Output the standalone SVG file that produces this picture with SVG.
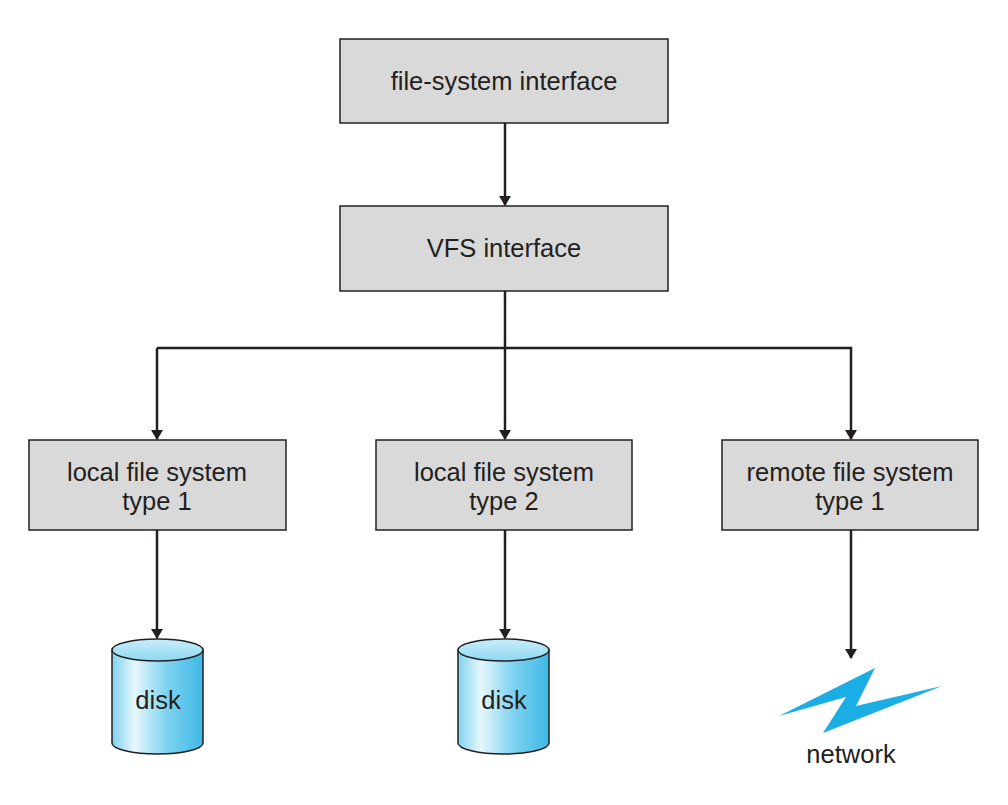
<svg xmlns="http://www.w3.org/2000/svg" width="1008" height="805" viewBox="0 0 1008 805">
<style>
.box{fill:#d9d9d9;stroke:#231f20;stroke-width:1.5}
.t{font-family:"Liberation Sans",Arial,sans-serif;font-size:25.5px;fill:#231f20;text-anchor:middle}
.c{fill:none;stroke:#231f20;stroke-width:2.5}
.disk{fill:url(#g);stroke:#231f20;stroke-width:1.5}
</style>
<defs>
<marker id="a" markerWidth="10" markerHeight="12" refX="9" refY="6" orient="auto" markerUnits="userSpaceOnUse"><path d="M0,0 L10,6 L0,12 z" fill="#231f20"/></marker>
<linearGradient id="g" x1="0" x2="1" y1="0" y2="0"><stop offset="0" stop-color="#7fd3f0"/><stop offset="0.25" stop-color="#e6f7fd"/><stop offset="0.6" stop-color="#7fd3f0"/><stop offset="1" stop-color="#3fb9e6"/></linearGradient>
<linearGradient id="gt" x1="0" x2="0" y1="0" y2="1"><stop offset="0" stop-color="#c9eefb"/><stop offset="1" stop-color="#8fd8f3"/></linearGradient>
</defs>
<rect x="0" y="0" width="1008" height="805" fill="#fff"/>
<g id="connectors">
<line class="c" x1="505" y1="123" x2="505" y2="205" marker-end="url(#a)"/>
<line class="c" x1="505" y1="291" x2="505" y2="439" marker-end="url(#a)"/>
<polyline class="c" points="157,348 851,348 851,439" marker-end="url(#a)"/>
<line class="c" x1="157" y1="348" x2="157" y2="439" marker-end="url(#a)"/>
<line class="c" x1="157" y1="530" x2="157" y2="638" marker-end="url(#a)"/>
<line class="c" x1="505" y1="530" x2="505" y2="638" marker-end="url(#a)"/>
<line class="c" x1="851" y1="530" x2="851" y2="658" marker-end="url(#a)"/>
</g>
<g id="fsi"><rect class="box" x="340" y="39" width="328" height="84"/><text class="t" x="504" y="90">file-system interface</text></g>
<g id="vfs"><rect class="box" x="340" y="206" width="328" height="85"/><text class="t" x="504" y="257">VFS interface</text></g>
<g id="lfs1"><rect class="box" x="29" y="440" width="257" height="90"/><text class="t" x="157" y="481">local file system</text><text class="t" x="157" y="510">type 1</text></g>
<g id="lfs2"><rect class="box" x="376" y="440" width="256" height="90"/><text class="t" x="504" y="481">local file system</text><text class="t" x="504" y="510">type 2</text></g>
<g id="rfs"><rect class="box" x="722" y="440" width="256" height="90"/><text class="t" x="850" y="481">remote file system</text><text class="t" x="850" y="510">type 1</text></g>
<g id="disk1"><path class="disk" d="M112,650 L112,743 A45.5,11 0 0 0 203,743 L203,650"/><ellipse cx="157.5" cy="650" rx="45.5" ry="11" fill="url(#gt)" stroke="#231f20" stroke-width="1.5"/><text class="t" x="158" y="709">disk</text></g>
<g id="disk2"><path class="disk" d="M458,650 L458,743 A45.5,11 0 0 0 549,743 L549,650"/><ellipse cx="503.5" cy="650" rx="45.5" ry="11" fill="url(#gt)" stroke="#231f20" stroke-width="1.5"/><text class="t" x="504" y="709">disk</text></g>
<g id="network"><polygon points="779,716 875,668 856,706 942,686 823,733 846,697" fill="#1aaee5"/><text class="t" x="851" y="763">network</text></g>
</svg>
